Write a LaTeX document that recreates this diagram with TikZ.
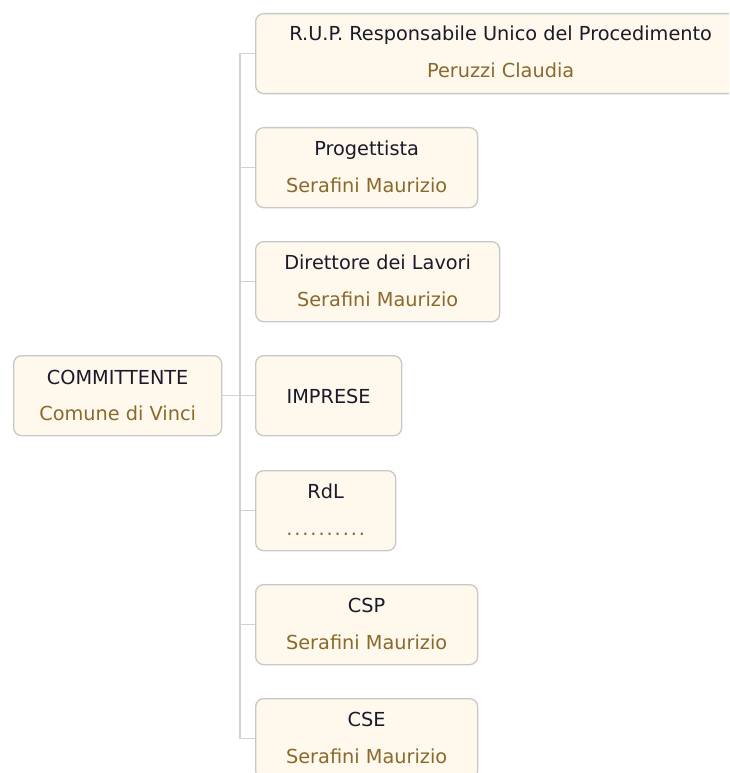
\documentclass[tikz,border=0pt]{standalone}
\usepackage{fontspec}
\setmainfont{DejaVu Sans}
\definecolor{boxfill}{HTML}{FFF8EC}
\definecolor{boxline}{HTML}{C8C8C8}
\definecolor{wire}{HTML}{D2D2D2}
\definecolor{titlecol}{HTML}{1A1A2A}
\definecolor{subcol}{HTML}{8A6A2C}
\tikzset{
  orgbox/.style={draw=boxline, fill=boxfill, line width=1.3pt, rounded corners=8pt, anchor=north west, inner sep=0pt},
  ttl/.style={anchor=base, text=titlecol, font=\fontsize{19.3}{22}\selectfont, inner sep=0pt},
  sub/.style={anchor=base, text=subcol, font=\fontsize{19.3}{22}\selectfont, inner sep=0pt},
  wireline/.style={draw=wire, line width=1.5pt}
}
\begin{document}
\begin{tikzpicture}[x=1pt,y=-1pt]
\useasboundingbox (0,0) rectangle (729,773);
\clip (0,0) rectangle (729,773);
% boxes
\node[orgbox, minimum width=208, minimum height=80] (comm) at (13,355) {};
\node[orgbox, minimum width=490, minimum height=80] (rup) at (255,13) {};
\node[orgbox, minimum width=222, minimum height=80] (prog) at (255,127) {};
\node[orgbox, minimum width=244, minimum height=80] (dl) at (255,241) {};
\node[orgbox, minimum width=146, minimum height=80] (imp) at (255,355) {};
\node[orgbox, minimum width=140, minimum height=80] (rdl) at (255,470) {};
\node[orgbox, minimum width=222, minimum height=80] (csp) at (255,584) {};
\node[orgbox, minimum width=222, minimum height=80] (cse) at (255,698) {};
% texts
\node[ttl] (commT) at ([yshift=-29]comm.north) {COMMITTENTE};
\node[sub] (commS) at ([yshift=-65]comm.north) {Comune di Vinci};
\node[ttl] (rupT) at ([yshift=-28]rup.north) {R.U.P. Responsabile Unico del Procedimento};
\node[sub] (rupS) at ([yshift=-65]rup.north) {Peruzzi Claudia};
\node[ttl] (progT) at ([yshift=-28]prog.north) {Progettista};
\node[sub] (progS) at ([yshift=-65]prog.north) {Serafini Maurizio};
\node[ttl] (dlT) at ([yshift=-28]dl.north) {Direttore dei Lavori};
\node[sub] (dlS) at ([yshift=-65]dl.north) {Serafini Maurizio};
\node[ttl] (impT) at ([yshift=-48]imp.north) {IMPRESE};
\node[ttl] (rdlT) at ([yshift=-28]rdl.north) {RdL};
\node[sub] (rdlS) at ([yshift=-65]rdl.north) {\addfontfeature{LetterSpace=10}..........};
\node[ttl] (cspT) at ([yshift=-28]csp.north) {CSP};
\node[sub] (cspS) at ([yshift=-65]csp.north) {Serafini Maurizio};
\node[ttl] (cseT) at ([yshift=-28]cse.north) {CSE};
\node[sub] (cseS) at ([yshift=-65]cse.north) {Serafini Maurizio};
% connectors
\foreach \c in {rup,prog,dl,imp,rdl,csp,cse}{
  \draw[wireline] (comm.east) -- ++(17.5,0) |- (\c.west);
}
\end{tikzpicture}
\end{document}
